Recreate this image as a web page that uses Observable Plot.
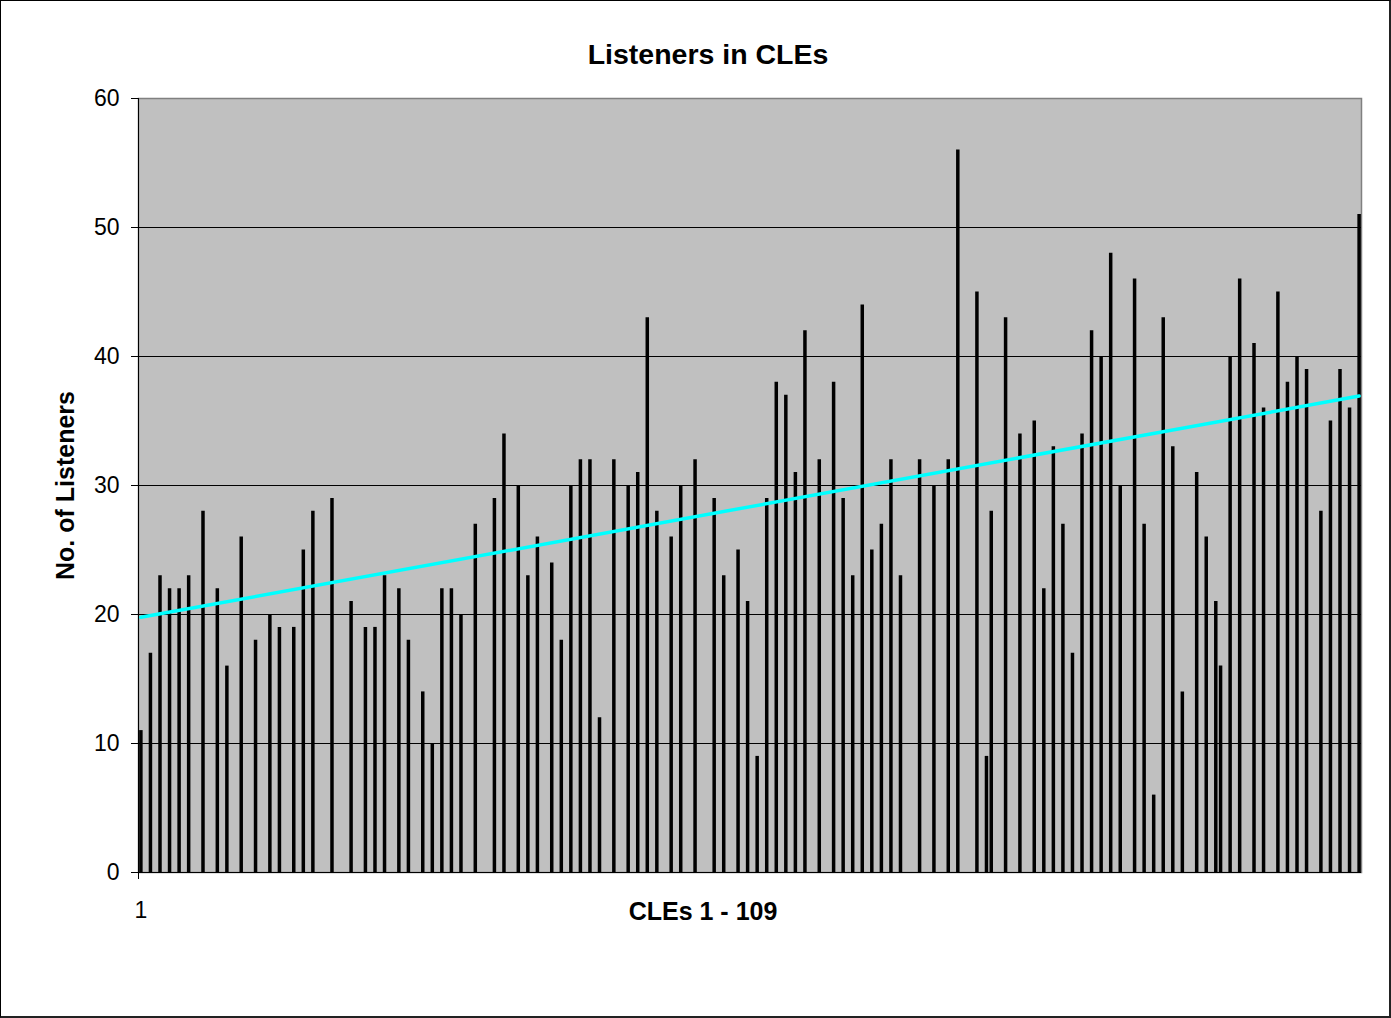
<!DOCTYPE html>
<html>
<head>
<meta charset="utf-8">
<script src="https://cdn.jsdelivr.net/npm/d3@7"></script>
<script src="https://cdn.jsdelivr.net/npm/@observablehq/plot@0.6"></script>
<style>
  html, body { margin: 0; padding: 0; background: #fff; }
  #wrap { position: relative; width: 1391px; height: 1018px; overflow: hidden; }
  #wrap svg { position: absolute; left: 0; top: 0; }
  #border { position: absolute; left: 0; top: 0; width: 1388px; height: 1015px;
            border-left: 1px solid #000; border-top: 1px solid #000;
            border-right: 2px solid #222; border-bottom: 2px solid #222; pointer-events: none; }
</style>
</head>
<body>
<div id="wrap"><div id="border"></div></div>
<script>
// Position of each CLE along the x axis (slot index, 256 slots) and its listener count
const slots = [
  0, 2, 4, 6, 8, 10, 13, 16, 18, 21, 24, 27, 29, 32, 34, 36, 40,
  44, 47, 49, 51, 54, 56, 59, 61, 63, 65, 67, 70, 74, 76, 79, 81, 83,
  86, 88, 90, 92, 94, 96, 99, 102, 104, 106, 108, 111, 113, 116, 120, 122, 125, 127, 129,
  131, 133, 135, 137, 139, 142, 145, 147, 149, 151, 153, 155, 157, 159, 163, 166, 169, 171,
  175, 177, 178, 181, 184, 187, 189, 191, 193, 195, 197, 199, 201, 203, 205, 208, 210, 212, 214,
  216, 218, 221, 223, 225, 226, 228, 230, 233, 235, 238, 240, 242, 244, 247, 249, 251, 253, 255
];
const listeners = [
  11, 17, 23, 22, 22, 23, 28, 22, 16, 26, 18, 20, 19, 19, 25, 28, 29,
  21, 19, 19, 23, 22, 18, 14, 10, 22, 22, 20, 27, 29, 34, 30, 23, 26,
  24, 18, 30, 32, 32, 12, 32, 30, 31, 43, 28, 26, 30, 32, 29, 23, 25, 21, 9,
  29, 38, 37, 31, 42, 32, 38, 29, 23, 44, 25, 27, 32, 23, 32, 30, 32, 56,
  45, 9, 28, 43, 34, 35, 22, 33, 27, 17, 34, 42, 40, 48, 30, 46, 27, 6, 43,
  33, 14, 31, 26, 21, 16, 40, 46, 41, 36, 45, 38, 40, 39, 28, 35, 39, 36, 51
];
const yTicks = [0, 10, 20, 30, 40, 50, 60];
const gridValues = [10, 20, 30, 40, 50];
const xTickSlots = [0];
const xTickLabels = ["1"];
const chartTitle = "Listeners in CLEs";
const xTitle = "CLEs 1 - 109";
const yTitle = "No. of Listeners";

const data = slots.map((s, i) => ({slot: s, value: listeners[i]}));
const font = "'Liberation Sans', Arial, Helvetica, sans-serif";

const chart = Plot.plot({
  width: 1391,
  height: 1018,
  marginLeft: 138,
  marginRight: 30,
  marginTop: 98,
  marginBottom: 146,
  style: {fontFamily: font, fontSize: "23px", background: "transparent", color: "#000"},
  x: {type: "linear", domain: [-0.5, 255.5]},
  y: {type: "linear", domain: [0, 60]},
  marks: [
    Plot.frame({fill: "#c0c0c0", stroke: "#808080", strokeWidth: 1.5}),
    Plot.ruleY(gridValues, {stroke: "#000", strokeWidth: 1}),
    Plot.ruleX(data, {x: "slot", y1: 0, y2: "value", stroke: "#000", strokeWidth: 3.5}),
    Plot.linearRegressionY(data, {x: "slot", y: "value", stroke: "#00ffff", strokeWidth: 3.5, ci: 0}),
    Plot.ruleY([0], {stroke: "#000", strokeWidth: 1}),
    Plot.ruleX([-0.5], {stroke: "#000", strokeWidth: 1}),
    Plot.ruleX([-0.5], {y1: 0, y2: 0, insetBottom: -7, stroke: "#000", strokeWidth: 1}),
    Plot.axisY({ticks: yTicks, tickSize: 7, tickPadding: 12, fontSize: 23, stroke: "#000", label: null, tickFormat: d => String(d)}),
    Plot.axisX({ticks: xTickSlots, tickSize: 0, tickPadding: 29, fontSize: 23, label: null,
                tickFormat: d => xTickLabels[xTickSlots.indexOf(d)]}),
    Plot.text([chartTitle], {frameAnchor: "top", dx: -42, dy: -35, lineAnchor: "bottom", textAnchor: "middle",
                             fontSize: 28.5, fontWeight: "bold", fill: "#000"}),
    Plot.text([xTitle], {frameAnchor: "bottom", dx: -47, dy: 47.5, lineAnchor: "bottom", textAnchor: "middle",
                         fontSize: 25, fontWeight: "bold", fill: "#000"}),
    Plot.text([yTitle], {frameAnchor: "left", dx: -65, rotate: -90, lineAnchor: "bottom", textAnchor: "middle",
                         fontSize: 25, fontWeight: "bold", fill: "#000"})
  ]
});
document.getElementById("wrap").prepend(chart);
</script>
</body>
</html>
